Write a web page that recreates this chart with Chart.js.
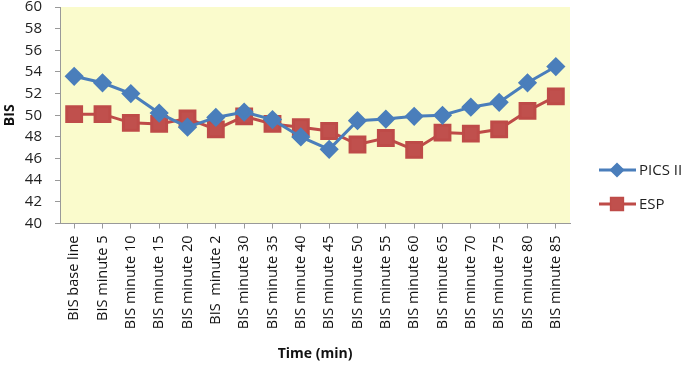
<!DOCTYPE html>
<html lang="en">
<head>
    <meta charset="UTF-8">
    <title>BIS over time</title>
    <style>
        body {
            margin: 0;
            background: white;
        }
        .chart-container {
            width: 685px;
            height: 366px;
        }
    </style>
</head>
<body>
    <div class="chart-container">
        <canvas id="bisChart"></canvas>
    </div>

    <script src="https://cdn.jsdelivr.net/npm/chart.js"></script>
    <script>
        // categories and values
        const labels = [
            'BIS base line', 'BIS minute 5', 'BIS minute 10', 'BIS minute 15', 'BIS minute 20',
            'BIS  minute 2', 'BIS minute 30', 'BIS minute 35', 'BIS minute 40', 'BIS minute 45',
            'BIS minute 50', 'BIS minute 55', 'BIS minute 60', 'BIS minute 65', 'BIS minute 70',
            'BIS minute 75', 'BIS minute 80', 'BIS minute 85'
        ];
        const picsValues = [53.6, 53.0, 52.0, 50.2, 48.9, 49.8, 50.3, 49.6, 48.0, 46.85,
            49.5, 49.65, 49.9, 50.0, 50.75, 51.2, 53.0, 54.5];
        const espValues = [50.1, 50.1, 49.3, 49.2, 49.7, 48.7, 49.9, 49.2, 48.9, 48.55,
            47.3, 47.9, 46.8, 48.4, 48.3, 48.7, 50.4, 51.75];
        const seriesNames = ['PICS II', 'ESP'];
        const yTicksMin = 40;
        const yTicksMax = 60;

        const blue = '#4A7EBB';
        const red = '#BE4B48';
        const font = "'Open Sans', sans-serif";

        // yellow plot area
        const plotBackground = {
            id: 'plotBackground',
            beforeDraw(chart) {
                const { ctx, chartArea } = chart;
                ctx.save();
                ctx.fillStyle = '#FAFBCC';
                ctx.fillRect(chartArea.left, chartArea.top,
                    chartArea.right - chartArea.left, chartArea.bottom - chartArea.top);
                ctx.restore();
            }
        };

        // Excel style legend: line with marker in the middle
        const sideLegend = {
            id: 'sideLegend',
            afterDraw(chart) {
                const { ctx, chartArea } = chart;
                const x0 = chartArea.right + 29;
                const rows = [170, 204];
                chart.data.datasets.forEach((ds, i) => {
                    const y = rows[i];
                    ctx.save();
                    ctx.strokeStyle = ds.borderColor;
                    ctx.lineWidth = 3;
                    ctx.beginPath();
                    ctx.moveTo(x0, y);
                    ctx.lineTo(x0 + 37, y);
                    ctx.stroke();
                    Chart.helpers.drawPoint(ctx, {
                        pointStyle: ds.pointStyle,
                        radius: i === 0 ? 5.5 : 8,
                        borderWidth: 1
                    }, x0 + 18, y);
                    ctx.fillStyle = ds.backgroundColor;
                    ctx.fill();
                    ctx.fillStyle = '#222';
                    ctx.font = '15px ' + font;
                    ctx.textBaseline = 'middle';
                    ctx.fillText(ds.label, x0 + 40, y + 1);
                    ctx.restore();
                });
            }
        };

        new Chart(document.getElementById('bisChart'), {
            type: 'line',
            data: {
                labels: labels,
                datasets: [{
                    label: seriesNames[0],
                    data: picsValues,
                    borderColor: blue,
                    backgroundColor: blue,
                    borderWidth: 3,
                    pointStyle: 'rectRot',
                    pointRadius: 7.5,
                    pointHoverRadius: 7.5,
                    tension: 0
                }, {
                    label: seriesNames[1],
                    data: espValues,
                    borderColor: red,
                    backgroundColor: '#C0504D',
                    borderWidth: 3,
                    pointStyle: 'rect',
                    pointRadius: 10.5,
                    pointHoverRadius: 10.5,
                    tension: 0
                }]
            },
            options: {
                responsive: true,
                maintainAspectRatio: false,
                animation: false,
                layout: {
                    autoPadding: false,
                    padding: { top: 0, right: 115, left: 0, bottom: 4 }
                },
                plugins: {
                    legend: { display: false },
                    tooltip: { enabled: false }
                },
                scales: {
                    x: {
                        offset: true,
                        grid: {
                            drawOnChartArea: false,
                            color: '#999',
                            tickLength: 5
                        },
                        border: { color: '#999' },
                        ticks: {
                            maxRotation: 90,
                            minRotation: 90,
                            autoSkip: false,
                            padding: 7,
                            color: '#111',
                            font: { family: font, size: 14.5 }
                        },
                        title: {
                            display: true,
                            text: 'Time (min)',
                            color: '#111',
                            padding: { top: 9, bottom: 0 },
                            font: { family: font, size: 14, weight: 'bold' }
                        }
                    },
                    y: {
                        min: yTicksMin,
                        max: yTicksMax,
                        afterFit(scale) {
                            // fixed axis width, and no extra room above the top label
                            scale.width = 60;
                            scale.paddingTop = 7;
                            scale.paddingBottom = 7;
                        },
                        grid: {
                            drawOnChartArea: false,
                            color: '#999',
                            tickLength: 5
                        },
                        border: { color: '#999' },
                        ticks: {
                            stepSize: 2,
                            autoSkip: false,
                            padding: 13,
                            color: '#222',
                            font: { family: font, size: 15 }
                        },
                        title: {
                            display: true,
                            text: 'BIS',
                            color: '#111',
                            padding: { top: 2, bottom: 5 },
                            font: { family: font, size: 14, weight: 'bold' }
                        }
                    }
                }
            },
            plugins: [plotBackground, sideLegend]
        });
    </script>
</body>
</html>
